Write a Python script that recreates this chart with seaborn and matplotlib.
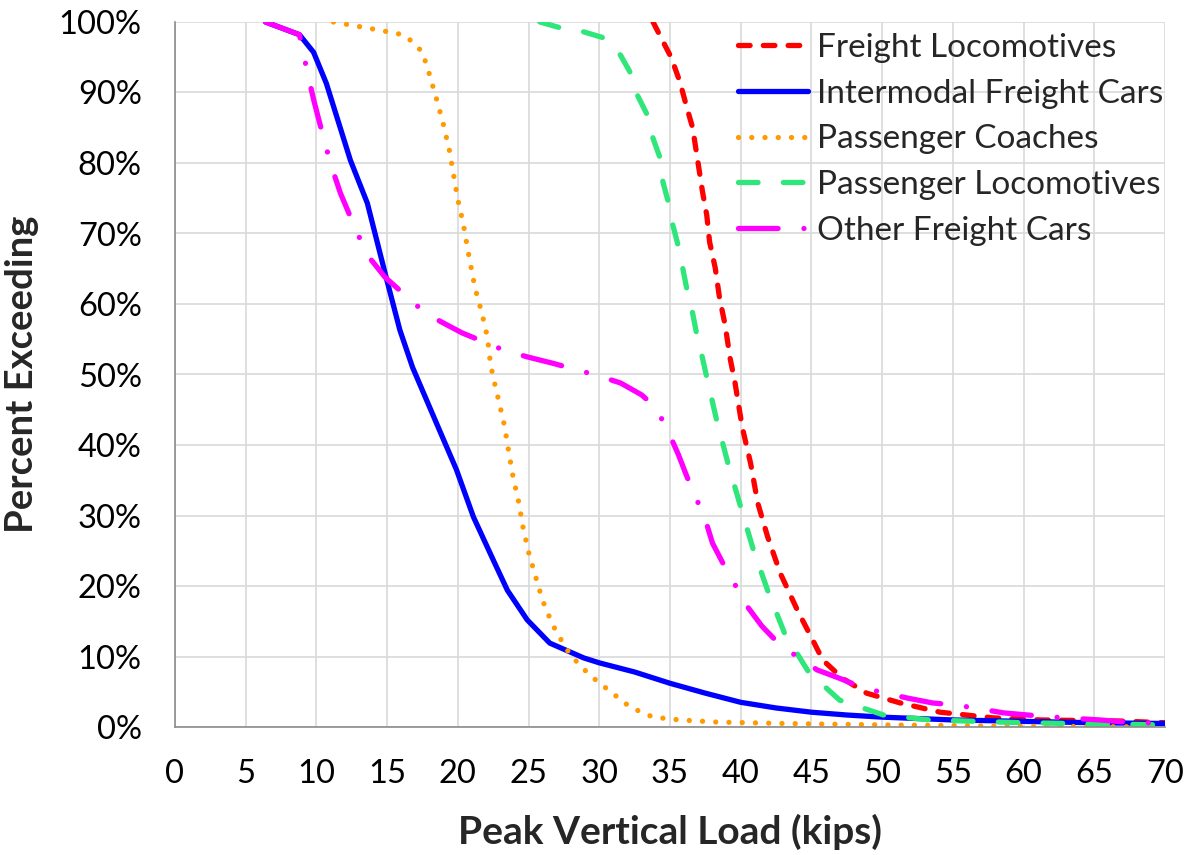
import matplotlib
matplotlib.use("Agg")
import matplotlib.pyplot as plt
from matplotlib import font_manager
from matplotlib.font_manager import FontProperties
from matplotlib.ticker import FuncFormatter
import seaborn as sns
import pandas as pd

# Exceedance curves: peak vertical wheel load (kips) vs percent of wheels exceeding it
freight_loco_load = [33.8, 35.1, 35.7, 36.2, 36.6, 36.9, 37.3, 37.6, 37.8, 38.2, 38.5, 38.9,
                     39.25, 39.6, 40.1, 40.7, 41.2, 41.9, 42.8, 44.0, 45.1, 45.8, 47.2, 48.9,
                     51.3, 54.1, 57.8, 61.2, 66.8, 70.0]
freight_loco_pct = [100, 94.9, 91.5, 87.8, 85.0, 81.1, 75.9, 72.6, 68.8, 65.1, 60.9, 57.0,
                    52.3, 48.8, 42.6, 37.4, 31.8, 27.0, 21.8, 16.6, 12.3, 9.5, 6.9, 4.8,
                    3.4, 2.1, 1.3, 1.0, 0.85, 0.6]

intermodal_load = [6.4, 8.8, 9.8, 10.7, 12.4, 13.6, 14.85, 15.9, 16.8, 18.7, 19.9, 21.1,
                   22.5, 23.5, 24.9, 26.5, 28.9, 30.0, 32.5, 35.0, 37.5, 40.0, 42.5, 45.0,
                   47.5, 50.0, 55.0, 60.0, 65.0, 70.0]
intermodal_pct = [100, 98.2, 95.7, 91.3, 80.4, 74.3, 64.4, 56.3, 51.0, 42.1, 36.5, 29.8,
                  23.7, 19.4, 15.2, 11.9, 9.8, 9.1, 7.8, 6.2, 4.8, 3.5, 2.7, 2.1,
                  1.7, 1.4, 1.0, 0.8, 0.6, 0.5]

coach_load = [11.2, 14.3, 16.1, 16.8, 17.5, 18.0, 18.5, 18.95, 19.4, 19.7, 20.0, 20.4,
              20.7, 21.2, 21.7, 22.1, 22.3, 22.5, 22.9, 23.3, 23.6, 23.9, 24.3, 24.6,
              25.0, 25.5, 26.0, 26.7, 27.6, 28.1, 29.3, 30.8, 32.2, 33.8, 35.7, 38.3,
              43.0, 50.0, 55.0, 60.0, 70.0]
coach_pct = [100, 98.9, 98.2, 97.2, 95.7, 92.5, 89.0, 85.7, 81.8, 78.3, 74.8, 71.2,
             67.7, 62.4, 58.7, 55.2, 51.6, 49.6, 46.2, 42.7, 39.0, 35.5, 31.9, 28.4,
             24.8, 21.3, 17.9, 14.5, 11.3, 9.9, 7.4, 5.0, 2.8, 1.4, 1.0, 0.7,
             0.5, 0.3, 0.2, 0.1, 0.0]

pass_loco_load = [25.8, 27.2, 28.9, 30.4, 31.5, 32.2, 32.7, 33.4, 33.8, 34.3, 34.5, 34.9,
                  35.2, 35.6, 35.9, 36.2, 36.6, 36.9, 37.3, 37.6, 38.3, 39.1, 40.0, 40.9,
                  41.9, 43.1, 44.8, 47.0, 50.1, 53.4, 60.0, 70.0]
pass_loco_pct = [100, 99.2, 98.6, 97.7, 95.3, 92.8, 89.6, 86.8, 83.5, 80.7, 77.3, 74.3,
                 71.2, 68.1, 65.1, 62.0, 58.7, 55.6, 52.3, 49.6, 43.5, 37.4, 31.2, 25.1,
                 19.4, 13.3, 7.8, 3.8, 1.7, 1.0, 0.6, 0.3]

other_freight_load = [6.4, 8.8, 9.4, 9.8, 10.6, 11.1, 11.7, 12.9, 13.7, 14.85, 17.2, 18.7,
                      20.3, 23.2, 24.9, 26.7, 29.8, 31.5, 33.0, 34.0, 34.9, 35.6, 36.2, 37.5,
                      38.0, 38.8, 40.5, 41.5, 42.8, 45.4, 47.0, 48.7, 51.8, 53.6, 55.3, 58.6,
                      60.3, 62.1, 65.4, 67.2, 70.0]
other_freight_pct = [100, 98.2, 92.5, 89.0, 82.8, 79.3, 75.7, 70.0, 66.7, 63.8, 59.6, 57.6,
                     55.9, 53.5, 52.5, 51.6, 49.9, 48.8, 47.1, 45.3, 41.8, 38.6, 35.5, 29.4,
                     26.1, 23.0, 17.0, 14.3, 11.6, 8.1, 6.9, 5.5, 4.1, 3.4, 3.1, 2.0,
                     1.7, 1.4, 1.0, 0.7, 0.5]

series_names = ["Freight Locomotives", "Intermodal Freight Cars", "Passenger Coaches",
                "Passenger Locomotives", "Other Freight Cars"]
x_ticks = list(range(0, 75, 5))
y_ticks = list(range(0, 110, 10))

sns.set_style("white")


def pick_font(*names):
    for name in names:
        try:
            font_manager.findfont(FontProperties(family=name), fallback_to_default=False)
            return name
        except ValueError:
            continue
    return "DejaVu Sans"


BODY = pick_font("Lato", "Open Sans", "DejaVu Sans")
plt.rcParams["font.family"] = [BODY, "DejaVu Sans"]

GRID = "#d9d9d9"
AXIS = "#8c8c8c"
LW = 3.8

fig = plt.figure(figsize=(11.93, 8.55), dpi=100)
ax = fig.add_axes([175 / 1193, 1 - 727 / 855, 990 / 1193, 705 / 855])

# dash patterns are in multiples of the line width, with round caps
styles = [
    (freight_loco_load, freight_loco_pct, "#ff0000", (0, (2.2, 2.5))),
    (intermodal_load, intermodal_pct, "#0000ff", "-"),
    (coach_load, coach_pct, "#ff9a00", (0, (0.01, 2.5))),
    (pass_loco_load, pass_loco_pct, "#2ee67a", (0, (3.7, 4.8))),
    (other_freight_load, other_freight_pct, "#ff00ff", (0, (7.5, 4.9, 0.01, 4.9))),
]

handles = []
for name, (xs, ys, color, ls) in zip(series_names, styles):
    df = pd.DataFrame({"load": xs, "pct": ys})
    sns.lineplot(data=df, x="load", y="pct", ax=ax, color=color, linewidth=LW,
                 linestyle=ls, sort=False, estimator=None, legend=False,
                 dash_capstyle="round", solid_capstyle="round")
    handles.append(ax.get_lines()[-1])

ax.set_xlim(0, 70)
ax.set_ylim(0, 100)
ax.set_xticks(x_ticks)
ax.set_yticks(y_ticks)
ax.yaxis.set_major_formatter(FuncFormatter(lambda v, _: f"{v:.0f}%"))
ax.grid(True, color=GRID, linewidth=1.2)
ax.set_axisbelow(True)

for side in ("top", "right"):
    ax.spines[side].set_visible(False)
for side in ("left", "bottom"):
    ax.spines[side].set_color(AXIS)
    ax.spines[side].set_linewidth(1.2)

ax.tick_params(axis="both", which="major", direction="out", length=8, width=1.2,
               color=AXIS, labelsize=23.5, labelcolor="black")
ax.tick_params(axis="y", pad=16)
ax.tick_params(axis="x", pad=15)

ax.set_xlabel("Peak Vertical Load (kips)", fontsize=28, fontweight="bold", labelpad=18)
ax.set_ylabel("Percent Exceeding", fontsize=27.5, fontweight="bold", labelpad=14)

leg = ax.legend(handles, series_names, loc="upper left",
                bbox_to_anchor=(738 / 1193, 1 - 33 / 855), bbox_transform=fig.transFigure,
                frameon=False, fontsize=24, handlelength=2.1, handletextpad=0.27,
                labelspacing=0.47, borderpad=0, borderaxespad=0)

fig.savefig("out.png", dpi=100)
